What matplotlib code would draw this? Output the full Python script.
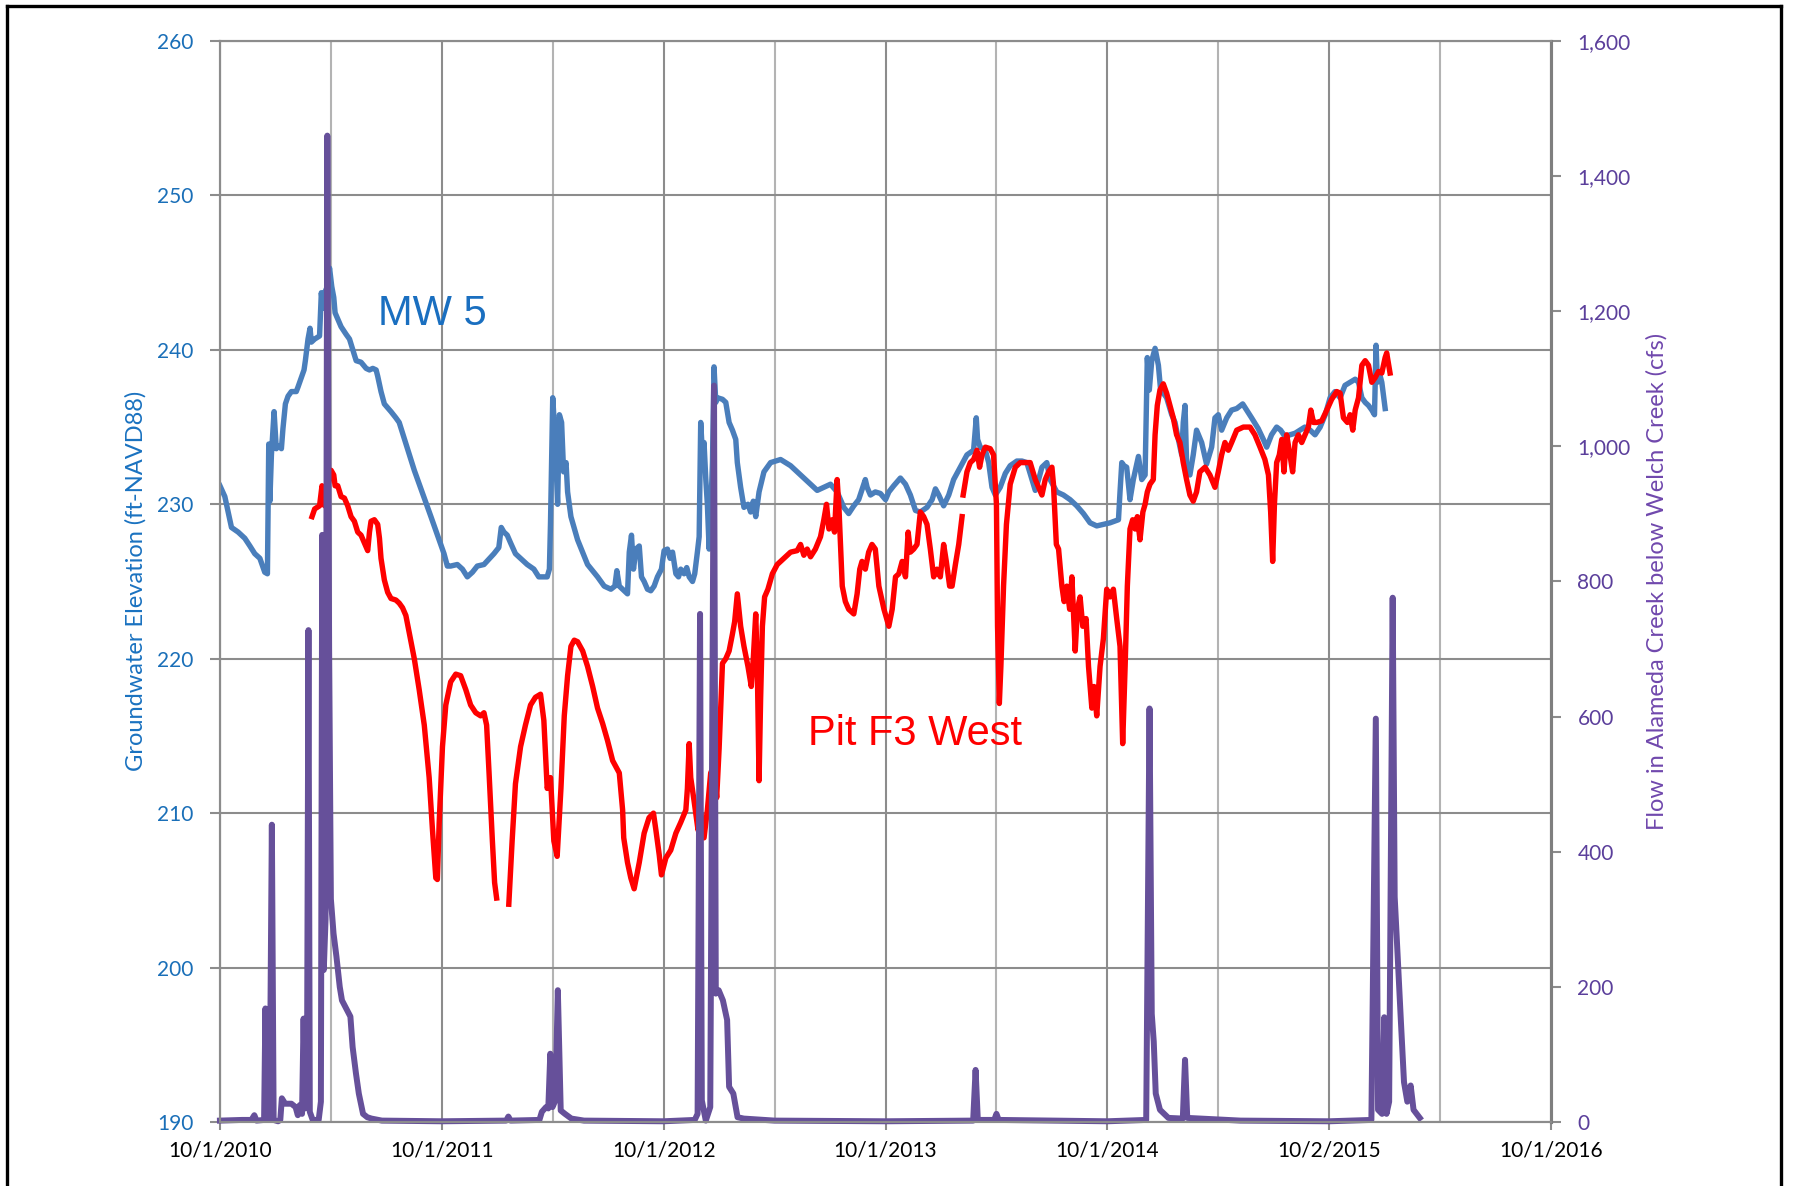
#!/usr/bin/env python3

import numpy as np
import matplotlib
matplotlib.use("Agg")
import matplotlib.pyplot as plt
from matplotlib.lines import Line2D
from matplotlib.ticker import FuncFormatter

# time axis: years after 10/1/2010
YEAR_TICKS = [0, 1, 2, 3, 4, 5, 6]
YEAR_LABELS = ["10/1/2010", "10/1/2011", "10/1/2012", "10/1/2013",
               "10/1/2014", "10/2/2015", "10/1/2016"]

ELEV_TICKS = [190, 200, 210, 220, 230, 240, 250, 260]
FLOW_TICKS = [0, 200, 400, 600, 800, 1000, 1200, 1400, 1600]

# MW 5 groundwater elevation (ft-NAVD88)
MW5 = [
    (0.000, 231.2), (0.022, 230.5), (0.052, 228.5), (0.082, 228.2), (0.112, 227.8),
    (0.135, 227.3), (0.157, 226.8), (0.180, 226.5), (0.202, 225.6), (0.214, 225.5),
    (0.220, 233.9), (0.225, 230.2), (0.232, 233.2), (0.244, 236.0), (0.254, 233.6),
    (0.265, 233.8), (0.277, 233.6), (0.284, 234.9), (0.295, 236.5), (0.307, 237.0),
    (0.322, 237.3), (0.344, 237.3), (0.352, 237.6), (0.367, 238.2), (0.379, 238.7),
    (0.385, 239.3), (0.397, 240.7), (0.406, 241.4), (0.412, 240.5), (0.427, 240.7),
    (0.449, 240.9), (0.457, 243.7), (0.464, 242.7), (0.472, 243.7), (0.484, 244.1),
    (0.494, 245.3), (0.504, 244.1), (0.513, 243.4), (0.519, 242.4), (0.531, 242.0),
    (0.546, 241.5), (0.569, 241.0), (0.584, 240.7), (0.599, 240.0), (0.614, 239.3),
    (0.636, 239.2), (0.659, 238.8), (0.674, 238.7), (0.689, 238.8), (0.704, 238.7),
    (0.711, 238.3), (0.726, 237.3), (0.741, 236.5), (0.771, 236.0), (0.793, 235.6),
    (0.808, 235.3), (0.876, 232.2), (0.951, 229.2), (1.010, 226.8), (1.025, 226.0),
    (1.040, 226.0), (1.070, 226.1), (1.093, 225.8), (1.115, 225.3), (1.138, 225.6),
    (1.160, 226.0), (1.190, 226.1), (1.235, 226.8), (1.257, 227.2), (1.268, 228.5),
    (1.280, 228.2), (1.295, 228.0), (1.310, 227.5), (1.332, 226.8), (1.355, 226.5),
    (1.385, 226.1), (1.415, 225.8), (1.437, 225.3), (1.475, 225.3), (1.485, 225.8),
    (1.490, 228.8), (1.500, 236.9), (1.510, 234.5), (1.522, 230.0), (1.530, 235.8),
    (1.540, 235.3), (1.549, 232.1), (1.560, 232.7), (1.567, 230.8), (1.582, 229.2),
    (1.612, 227.7), (1.657, 226.1), (1.702, 225.3), (1.732, 224.7), (1.762, 224.5),
    (1.780, 224.7), (1.789, 225.7), (1.800, 224.7), (1.822, 224.4), (1.837, 224.2),
    (1.845, 226.9), (1.855, 228.0), (1.864, 225.8), (1.875, 227.1), (1.890, 227.3),
    (1.900, 225.3), (1.912, 225.0), (1.927, 224.5), (1.942, 224.4), (1.957, 224.7),
    (1.972, 225.3), (1.990, 225.8), (2.002, 227.0), (2.017, 227.1), (2.029, 226.5),
    (2.040, 226.9), (2.055, 225.5), (2.067, 225.3), (2.077, 225.8), (2.092, 225.5),
    (2.104, 225.9), (2.115, 225.3), (2.130, 225.0), (2.140, 225.5), (2.152, 226.9),
    (2.160, 227.9), (2.167, 235.3), (2.175, 233.2), (2.182, 234.0), (2.190, 231.6),
    (2.197, 230.0), (2.205, 227.1), (2.212, 229.5), (2.220, 232.7), (2.227, 238.9),
    (2.235, 236.6), (2.242, 236.9), (2.265, 236.8), (2.280, 236.6), (2.295, 235.3),
    (2.310, 234.8), (2.325, 234.2), (2.332, 232.7), (2.347, 231.1), (2.362, 229.8),
    (2.380, 230.0), (2.392, 229.5), (2.404, 230.2), (2.415, 229.2), (2.430, 230.8),
    (2.452, 232.1), (2.482, 232.7), (2.527, 232.9), (2.572, 232.5), (2.617, 231.9),
    (2.662, 231.3), (2.692, 230.9), (2.722, 231.1), (2.752, 231.3), (2.782, 230.8),
    (2.812, 229.8), (2.834, 229.4), (2.857, 229.9), (2.879, 230.3), (2.909, 231.6),
    (2.917, 231.1), (2.932, 230.6), (2.954, 230.8), (2.977, 230.7), (3.000, 230.3),
    (3.015, 230.8), (3.037, 231.2), (3.067, 231.7), (3.090, 231.3), (3.112, 230.6),
    (3.135, 229.6), (3.157, 229.5), (3.187, 229.8), (3.210, 230.3), (3.225, 231.0),
    (3.240, 230.6), (3.262, 229.9), (3.285, 230.6), (3.307, 231.6), (3.337, 232.4),
    (3.367, 233.2), (3.397, 233.5), (3.409, 235.6), (3.415, 234.2), (3.427, 233.7),
    (3.450, 233.5), (3.465, 232.7), (3.480, 231.1), (3.495, 230.6), (3.517, 231.1),
    (3.540, 232.0), (3.562, 232.5), (3.592, 232.8), (3.615, 232.8), (3.637, 232.7),
    (3.660, 231.6), (3.675, 230.9), (3.690, 231.6), (3.705, 232.4), (3.727, 232.7),
    (3.742, 231.6), (3.772, 230.8), (3.802, 230.6), (3.832, 230.3), (3.862, 229.9),
    (3.892, 229.4), (3.922, 228.8), (3.952, 228.6), (3.982, 228.7), (4.012, 228.8),
    (4.050, 229.0), (4.057, 230.8), (4.065, 232.7), (4.075, 232.5), (4.087, 232.4),
    (4.102, 230.3), (4.117, 231.6), (4.140, 233.1), (4.155, 231.6), (4.170, 231.9),
    (4.180, 239.5), (4.189, 237.4), (4.200, 239.3), (4.215, 240.1), (4.230, 239.0),
    (4.240, 237.4), (4.252, 237.2), (4.267, 236.9), (4.290, 235.8), (4.305, 235.3),
    (4.320, 234.2), (4.335, 233.2), (4.342, 235.3), (4.350, 236.4), (4.357, 232.7),
    (4.372, 231.9), (4.387, 233.2), (4.402, 234.8), (4.425, 234.0), (4.447, 232.6),
    (4.470, 233.7), (4.485, 235.6), (4.500, 235.8), (4.515, 234.8), (4.538, 235.6),
    (4.560, 236.1), (4.583, 236.2), (4.610, 236.5), (4.628, 236.1), (4.650, 235.6),
    (4.680, 234.9), (4.703, 234.2), (4.718, 233.7), (4.740, 234.5), (4.763, 235.0),
    (4.781, 234.8), (4.800, 234.4), (4.823, 234.5), (4.846, 234.6), (4.868, 234.8),
    (4.890, 235.0), (4.914, 234.8), (4.936, 234.5), (4.959, 235.0), (4.982, 235.8),
    (5.004, 236.9), (5.026, 237.3), (5.049, 236.9), (5.071, 237.7), (5.094, 237.9),
    (5.117, 238.1), (5.132, 237.9), (5.147, 236.9), (5.162, 236.6), (5.177, 236.4),
    (5.192, 236.1), (5.204, 235.8), (5.211, 240.3), (5.217, 237.9), (5.226, 238.5),
    (5.237, 237.9), (5.252, 236.2),
]

# Pit F3 West groundwater elevation, three logged stretches
PIT_F3_A = [
    (0.415, 229.2), (0.427, 229.7), (0.449, 229.9), (0.460, 231.2), (0.472, 229.9),
    (0.487, 231.2), (0.501, 232.2), (0.513, 231.9), (0.519, 231.2), (0.531, 231.2),
    (0.546, 230.5), (0.561, 230.4), (0.576, 229.9), (0.591, 229.2), (0.606, 228.9),
    (0.621, 228.2), (0.636, 228.0), (0.651, 227.5), (0.666, 227.0), (0.674, 228.2),
    (0.681, 228.9), (0.696, 229.0), (0.711, 228.7), (0.719, 227.8), (0.726, 226.5),
    (0.741, 225.1), (0.756, 224.3), (0.771, 223.9), (0.793, 223.8), (0.808, 223.6),
    (0.823, 223.3), (0.838, 222.8), (0.853, 221.7), (0.876, 220.0), (0.898, 218.0),
    (0.921, 215.7), (0.943, 212.3), (0.958, 208.9), (0.973, 205.8), (0.980, 205.7),
    (0.988, 209.3), (1.003, 214.3), (1.018, 217.0), (1.040, 218.5), (1.063, 219.0),
    (1.085, 218.9), (1.108, 218.0), (1.130, 217.0), (1.153, 216.5), (1.175, 216.3),
    (1.190, 216.5), (1.202, 215.7), (1.213, 212.6), (1.228, 208.2), (1.238, 205.5),
    (1.247, 204.5),
]
PIT_F3_B = [
    (1.302, 204.1), (1.317, 208.2), (1.332, 211.9), (1.355, 214.3), (1.377, 215.7),
    (1.400, 217.0), (1.422, 217.5), (1.445, 217.7), (1.460, 216.0), (1.475, 211.6),
    (1.490, 212.3), (1.505, 208.2), (1.520, 207.2), (1.537, 211.6), (1.552, 216.3),
    (1.567, 218.9), (1.582, 220.8), (1.597, 221.2), (1.612, 221.1), (1.635, 220.5),
    (1.657, 219.5), (1.680, 218.2), (1.702, 216.8), (1.725, 215.8), (1.747, 214.7),
    (1.770, 213.4), (1.800, 212.6), (1.815, 210.2), (1.820, 208.4), (1.837, 206.8),
    (1.852, 205.8), (1.867, 205.1), (1.890, 206.8), (1.912, 208.7), (1.934, 209.7),
    (1.954, 210.0), (1.965, 208.9), (1.980, 207.3), (1.990, 206.0), (2.010, 207.1),
    (2.032, 207.6), (2.055, 208.7), (2.077, 209.4), (2.100, 210.2), (2.107, 211.6),
    (2.115, 214.5), (2.122, 212.3), (2.137, 210.8), (2.155, 208.9), (2.167, 210.0),
    (2.182, 208.4), (2.197, 210.2), (2.212, 212.6), (2.227, 213.1), (2.239, 211.0),
    (2.250, 214.2), (2.265, 219.7), (2.280, 220.0), (2.295, 220.5), (2.310, 221.6),
    (2.320, 222.4), (2.332, 224.2), (2.347, 222.1), (2.362, 220.8), (2.380, 219.5),
    (2.395, 218.2), (2.404, 220.0), (2.415, 222.9), (2.422, 219.5), (2.430, 212.1),
    (2.437, 217.4), (2.445, 222.1), (2.455, 224.0), (2.470, 224.5), (2.490, 225.5),
    (2.512, 226.1), (2.542, 226.5), (2.572, 226.9), (2.602, 227.0), (2.617, 227.4),
    (2.632, 226.7), (2.647, 227.1), (2.662, 226.6), (2.684, 227.1), (2.707, 227.9),
    (2.722, 229.0), (2.734, 230.0), (2.745, 228.4), (2.760, 229.0), (2.770, 228.2),
    (2.782, 231.6), (2.790, 229.8), (2.805, 224.7), (2.819, 223.7), (2.834, 223.2),
    (2.857, 222.9), (2.872, 224.2), (2.884, 225.8), (2.894, 226.3), (2.909, 225.8),
    (2.924, 226.9), (2.939, 227.4), (2.954, 227.1), (2.970, 224.7), (2.993, 223.2),
    (3.015, 222.1), (3.030, 223.2), (3.045, 225.3), (3.060, 225.5), (3.075, 226.3),
    (3.090, 225.3), (3.102, 228.2), (3.112, 226.9), (3.127, 227.1), (3.142, 227.4),
    (3.157, 229.5), (3.172, 229.2), (3.187, 228.7), (3.202, 227.1), (3.217, 225.3),
    (3.232, 225.8), (3.247, 225.3), (3.262, 227.4), (3.274, 226.3), (3.289, 224.7),
    (3.300, 224.7), (3.315, 226.1), (3.330, 227.4), (3.345, 229.2),
]
PIT_F3_C = [
    (3.350, 230.6), (3.367, 232.1), (3.382, 232.7), (3.397, 232.9), (3.412, 233.5),
    (3.424, 232.4), (3.435, 233.2), (3.450, 233.7), (3.472, 233.6), (3.487, 233.2),
    (3.500, 230.0), (3.505, 222.1), (3.513, 217.1), (3.520, 219.5), (3.532, 224.7),
    (3.545, 228.7), (3.562, 231.3), (3.585, 232.4), (3.607, 232.7), (3.630, 232.7),
    (3.652, 232.7), (3.675, 231.6), (3.690, 231.1), (3.705, 230.6), (3.720, 231.6),
    (3.735, 232.1), (3.750, 232.4), (3.757, 231.3), (3.770, 227.4), (3.780, 227.1),
    (3.795, 224.7), (3.805, 223.7), (3.817, 224.7), (3.830, 223.2), (3.840, 225.3),
    (3.855, 220.5), (3.865, 223.2), (3.877, 224.0), (3.889, 222.1), (3.904, 222.6),
    (3.915, 219.5), (3.930, 216.8), (3.940, 218.2), (3.952, 216.3), (3.967, 219.5),
    (3.982, 221.3), (3.997, 224.5), (4.012, 224.0), (4.027, 224.5), (4.042, 222.6),
    (4.057, 220.8), (4.069, 214.5), (4.080, 219.5), (4.090, 224.7), (4.102, 228.4),
    (4.114, 229.0), (4.125, 228.4), (4.135, 229.2), (4.147, 227.7), (4.160, 229.5),
    (4.170, 230.0), (4.180, 230.8), (4.192, 231.3), (4.207, 231.6), (4.215, 234.5),
    (4.225, 236.4), (4.237, 237.4), (4.252, 237.8), (4.267, 237.2), (4.282, 236.4),
    (4.297, 235.6), (4.312, 234.5), (4.327, 234.0), (4.342, 232.7), (4.357, 231.6),
    (4.372, 230.6), (4.387, 230.2), (4.402, 230.8), (4.417, 232.1), (4.440, 232.4),
    (4.462, 231.9), (4.485, 231.1), (4.500, 232.1), (4.515, 233.2), (4.530, 234.0),
    (4.545, 233.5), (4.560, 234.0), (4.583, 234.8), (4.613, 235.0), (4.643, 235.0),
    (4.665, 234.5), (4.688, 233.7), (4.710, 232.9), (4.726, 231.9), (4.736, 229.5),
    (4.745, 226.3), (4.753, 230.0), (4.763, 232.7), (4.775, 233.2), (4.786, 234.2),
    (4.796, 232.1), (4.808, 234.5), (4.823, 233.2), (4.835, 232.1), (4.846, 234.0),
    (4.861, 234.5), (4.876, 234.0), (4.891, 234.5), (4.906, 235.0), (4.917, 236.1),
    (4.929, 235.3), (4.944, 235.3), (4.966, 235.4), (4.989, 236.1), (5.011, 236.8),
    (5.034, 237.3), (5.049, 237.2), (5.064, 235.6), (5.082, 235.3), (5.094, 235.8),
    (5.106, 234.8), (5.117, 236.1), (5.132, 236.9), (5.147, 239.0), (5.162, 239.3),
    (5.177, 239.0), (5.192, 237.9), (5.207, 238.2), (5.222, 238.6), (5.237, 238.5),
    (5.252, 239.5), (5.259, 239.8), (5.274, 238.5),
]

# Alameda Creek below Welch Creek, daily flow (cfs)
FLOW = [
    (0.000, 2), (0.100, 3), (0.142, 3), (0.155, 10), (0.165, 2), (0.199, 3),
    (0.205, 168), (0.212, 3), (0.224, 3), (0.234, 440), (0.242, 3), (0.262, 1),
    (0.272, 3), (0.279, 35), (0.294, 27), (0.322, 27), (0.341, 22), (0.351, 10),
    (0.360, 25), (0.370, 12), (0.377, 153), (0.384, 20), (0.392, 30), (0.399, 728),
    (0.405, 15), (0.418, 3), (0.445, 3), (0.455, 30), (0.461, 869), (0.468, 225),
    (0.476, 300), (0.484, 1460), (0.492, 700), (0.500, 330), (0.512, 279),
    (0.525, 245), (0.540, 200), (0.550, 180), (0.569, 168), (0.588, 156),
    (0.598, 111), (0.613, 72), (0.626, 42), (0.645, 12), (0.664, 7), (0.683, 5),
    (0.730, 2), (1.000, 1), (1.290, 2), (1.300, 8), (1.310, 2), (1.440, 3),
    (1.451, 15), (1.470, 22), (1.480, 20), (1.489, 101), (1.499, 22), (1.512, 32),
    (1.523, 195), (1.536, 17), (1.555, 12), (1.584, 5), (1.641, 2), (2.000, 1),
    (2.140, 3), (2.153, 12), (2.164, 752), (2.172, 32), (2.190, 2), (2.210, 22),
    (2.227, 1090), (2.235, 190), (2.248, 195), (2.267, 180), (2.286, 151),
    (2.295, 52), (2.314, 42), (2.333, 7), (2.361, 5), (2.500, 2), (3.000, 1),
    (3.395, 2), (3.406, 77), (3.416, 3), (3.490, 3), (3.500, 12), (3.510, 3),
    (4.000, 1), (4.175, 3), (4.190, 612), (4.200, 160), (4.209, 119), (4.218, 42),
    (4.237, 18), (4.275, 6), (4.340, 5), (4.350, 92), (4.360, 6), (4.600, 2),
    (5.000, 1), (5.190, 3), (5.210, 597), (5.220, 18), (5.238, 12), (5.248, 155),
    (5.258, 12), (5.270, 30), (5.286, 776), (5.295, 333), (5.305, 268),
    (5.323, 149), (5.337, 59), (5.352, 30), (5.367, 54), (5.380, 18), (5.408, 6),
]

BLUE = "#4a7ebb"
RED = "#ff0000"
PURPLE = "#66509a"
GRID = "#8c8c8c"


def xy( pairs ):
    arr = np.array( pairs, dtype=float )
    return arr[:, 0], arr[:, 1]


def plot( pdfname="out.png" ):
    fig = plt.figure( figsize=(17.94, 11.86), dpi=100 )
    ax = fig.add_axes( [0.1226, 0.054, 0.742, 0.9114] )
    ax2 = ax.twinx()

    # groundwater (left axis)
    t, y = xy( MW5 )
    ax.plot( t, y, color=BLUE, lw=3.9, solid_joinstyle='round', zorder=3 )
    for seg in ( PIT_F3_A, PIT_F3_B, PIT_F3_C ):
        t, y = xy( seg )
        ax.plot( t, y, color=RED, lw=3.9, solid_joinstyle='round', zorder=4 )

    # creek flow (right axis)
    t, q = xy( FLOW )
    ax2.plot( t, q, color=PURPLE, lw=4.3, solid_joinstyle='round', clip_on=False )

    ax.set_xlim( 0, 6 )
    ax.set_ylim( 190, 260 )
    ax2.set_ylim( 0, 1600 )

    ax.set_xticks( YEAR_TICKS )
    ax.set_xticks( np.arange( 0.5, 6, 1.0 ), minor=True )
    ax.set_xticklabels( YEAR_LABELS )
    ax.set_yticks( ELEV_TICKS )
    ax2.set_yticks( FLOW_TICKS )
    ax2.yaxis.set_major_formatter( FuncFormatter( lambda v, p: "{:,.0f}".format( v ) ) )

    ax.grid( which='major', axis='both', color=GRID, lw=1.5 )
    ax.grid( which='minor', axis='x', color='#b3b3b3', lw=1.5 )
    ax.set_axisbelow( True )

    font = "Lato"
    ax.tick_params( axis='x', which='major', length=6, width=1.5, color=GRID, pad=7,
                    labelsize=15, labelcolor='black' )
    ax.tick_params( axis='x', which='minor', length=0 )
    ax.tick_params( axis='y', length=7, width=1.5, color=GRID, pad=12,
                    labelsize=15, labelcolor='#1a6fb8' )
    ax2.tick_params( axis='y', length=7, width=1.5, color=GRID, pad=12,
                     labelsize=15, labelcolor='#5b3f9b' )
    for lab in ax.get_xticklabels() + ax.get_yticklabels() + ax2.get_yticklabels():
        lab.set_fontfamily( font )

    for a in ( ax, ax2 ):
        for side in ( 'left', 'bottom', 'top' ):
            a.spines[side].set_color( GRID )
            a.spines[side].set_linewidth( 1.5 )
        a.spines['right'].set_color( '#7f7f7f' )
        a.spines['right'].set_linewidth( 2.2 )

    fig.text( 0.0758, 0.51, "Groundwater Elevation (ft-NAVD88)", rotation=90,
              ha='center', va='center', fontsize=17, color='#1a72c0', family=font )
    fig.text( 0.9235, 0.51, "Flow in Alameda Creek below Welch Creek (cfs)", rotation=90,
              ha='center', va='center', fontsize=17, color='#7048ad', family=font )

    ax.text( 0.711, 242.3, "MW 5", color='#1a6fc0', fontsize=30,
             family='Liberation Sans', ha='left', va='center' )
    ax.text( 2.649, 215.1, "Pit F3 West", color=RED, fontsize=30,
             family='Liberation Sans', ha='left', va='center' )

    # page frame around the figure
    fx0, fx1, fy1 = 7 / 1794, 1781 / 1794, 1 - 6 / 1186
    for xs, ys in ( ( [fx0, fx0], [0, fy1] ), ( [fx0, fx1], [fy1, fy1] ), ( [fx1, fx1], [0, fy1] ) ):
        fig.add_artist( Line2D( xs, ys, color='black', lw=2.4, transform=fig.transFigure ) )

    plt.savefig( pdfname, dpi=100 )
    plt.close( fig )
    return


def main():
    plot( "out.png" )
    return


if __name__ == "__main__":
    main()
